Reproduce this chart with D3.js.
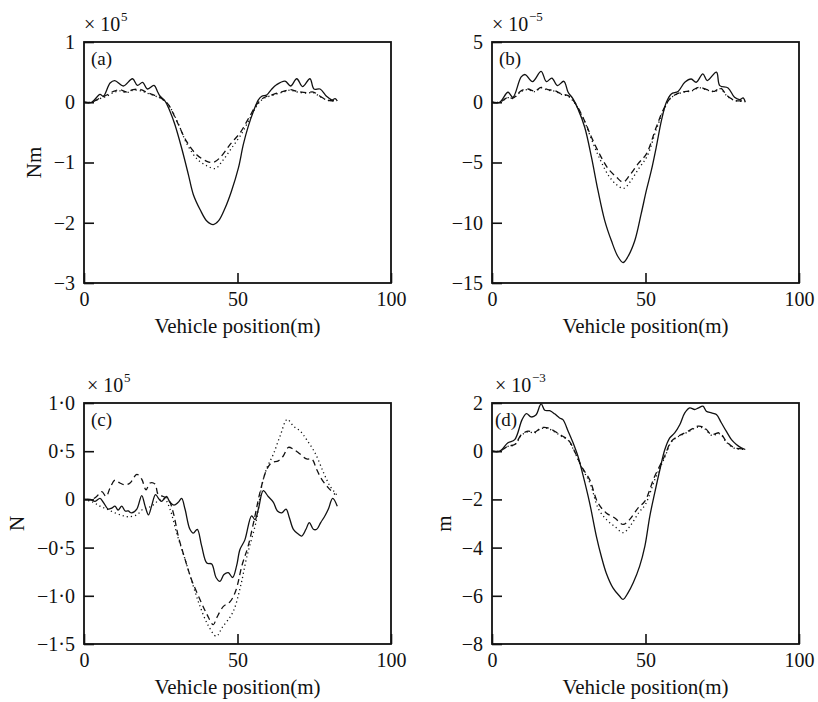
<!DOCTYPE html>
<html>
<head>
<meta charset="utf-8">
<script src="https://cdn.jsdelivr.net/npm/d3@7.9.0/dist/d3.min.js"></script>
<style>
  body { margin: 0; background: #fff; }
  svg text { font-family: "Liberation Serif", "Times New Roman", serif; fill: #111; }
</style>
</head>
<body>
<svg id="chart" width="818" height="702"></svg>
<script>
// --- data: [vehicle position (m), value] per curve ---
const aSolid = [[0,0],[2.5,0],[5.2,0.13],[6.3,0.1],[8.5,0.32],[10,0.36],[12.8,0.27],[15.8,0.39],[17.4,0.28],[19.1,0.33],[20.6,0.22],[22.8,0.28],[24,0.17],[24.8,0.1],[26.4,0.02],[28,-0.15],[29.6,-0.37],[31.8,-0.76],[34,-1.2],[35.6,-1.53],[37.8,-1.78],[40,-1.97],[42.1,-2.03],[43.8,-1.97],[46,-1.75],[48,-1.48],[50.3,-1.09],[51.9,-0.7],[53.5,-0.4],[55.2,-0.15],[56.8,0.04],[57.9,0.1],[59.5,0.12],[61,0.21],[62.7,0.29],[65.5,0.35],[67.3,0.27],[69.3,0.39],[71.2,0.26],[73.6,0.39],[74.9,0.22],[76.9,0.22],[79,0.1],[80.7,0.04],[81.8,0.06],[82.5,0.02]];
const aDashed = [[0,0],[2.5,0],[5.2,0.07],[7.4,0.12],[9.6,0.18],[11.7,0.21],[13.9,0.17],[16,0.21],[18.5,0.21],[20.6,0.16],[22.8,0.12],[24.8,0.08],[26,0.03],[27.5,-0.04],[30.2,-0.31],[33.4,-0.65],[36.7,-0.87],[40,-0.98],[42.1,-1.0],[44.3,-0.92],[47.6,-0.7],[50.8,-0.51],[54,-0.23],[56.2,-0.04],[58.4,0.07],[61.7,0.13],[64.9,0.18],[67.1,0.21],[69.5,0.18],[72.5,0.16],[74.7,0.17],[76.9,0.1],[79.5,0.03],[82.3,0.03]];
const aDotted = [[0,0],[2.5,0],[5.2,0.06],[7.4,0.1],[9.6,0.16],[11.7,0.19],[13.9,0.16],[16,0.2],[18.5,0.19],[20.6,0.15],[22.8,0.11],[24.8,0.07],[26.5,0.01],[28,-0.08],[30.5,-0.33],[33.6,-0.7],[37,-0.95],[40.2,-1.06],[42.8,-1.1],[45,-0.98],[47.8,-0.78],[51,-0.55],[54,-0.27],[56.4,-0.05],[58.4,0.06],[61.7,0.12],[64.9,0.17],[67.1,0.2],[69.5,0.17],[72.5,0.15],[74.7,0.16],[76.9,0.09],[79.5,0.03],[82.3,0.02]];

const bSolid = [[0,0],[2.5,0],[5.2,0.83],[6.8,0.41],[9.5,2.1],[10.8,2.3],[13.2,1.72],[16,2.57],[17.7,1.72],[19.5,2.0],[21.3,1.38],[23.4,1.74],[24.8,0.83],[26.4,0.28],[28,-0.55],[30.2,-2.07],[32.4,-4.56],[34.5,-7.3],[36.7,-9.8],[38.9,-11.5],[41,-12.8],[42.7,-13.3],[44.3,-12.8],[46.5,-11.5],[48.6,-9.25],[50.3,-7.3],[51.9,-5.66],[53.5,-3.73],[55.2,-1.5],[56.8,0],[58.4,0.69],[60.6,0.9],[62.8,1.66],[64.9,1.93],[66.5,1.66],[68.7,2.35],[70.1,1.8],[73.1,2.5],[74.2,1.38],[76.9,1.19],[79,0.41],[80.7,0.22],[81.8,0.36],[82.5,0]];
const bDashed = [[0,0],[2.5,0],[5.2,0.41],[6.8,0.35],[9.6,0.97],[11.7,1.1],[13.9,0.92],[16,1.24],[18.2,1.05],[20.4,0.97],[22.6,0.69],[24.8,0.55],[26.9,0],[29.6,-1.24],[32.4,-2.9],[35,-4.28],[37.8,-5.5],[40.5,-6.2],[42.7,-6.63],[44.8,-6.08],[47.6,-5.1],[50.3,-4.28],[53.5,-2.07],[56.2,-0.41],[58.4,0.41],[61.7,0.83],[64.9,0.97],[67.6,1.24],[70.4,1.02],[72.5,0.91],[74.4,1.19],[76.6,0.55],[79.3,0.14],[82.3,0.14]];
const bDotted = [[0,0],[2.5,0],[5.2,0.38],[6.8,0.32],[9.6,0.9],[11.7,1.05],[13.9,0.88],[16,1.2],[18.2,1.0],[20.4,0.92],[22.6,0.66],[24.8,0.5],[26.9,-0.05],[29.8,-1.4],[32.6,-3.2],[35.3,-4.8],[38,-6.1],[40.6,-6.85],[42.9,-7.15],[45,-6.6],[47.8,-5.5],[50.5,-4.5],[53.6,-2.2],[56.3,-0.45],[58.4,0.38],[61.7,0.8],[64.9,0.93],[67.6,1.2],[70.4,0.98],[72.5,0.88],[74.4,1.12],[76.6,0.5],[79.3,0.12],[82.3,0.1]];

const cSolid = [[0,0],[2,0],[3.6,-0.02],[5.2,0.01],[6.3,-0.03],[7.9,-0.1],[9,-0.09],[10.1,-0.07],[11.1,-0.11],[12.3,-0.07],[13.4,-0.12],[14.4,-0.12],[15.5,-0.14],[17.2,-0.1],[18.8,0.04],[19.9,-0.07],[21,-0.16],[22,-0.07],[23.3,0.05],[24.5,0],[25.3,-0.02],[26.9,0.03],[28,-0.03],[29.3,-0.06],[30.7,-0.03],[31.8,0.01],[32.9,-0.1],[34.5,-0.31],[35.6,-0.35],[36.9,-0.31],[38.3,-0.48],[40,-0.66],[41.6,-0.67],[43,-0.81],[44.3,-0.85],[45.6,-0.78],[47,-0.76],[48.4,-0.81],[49.7,-0.69],[50.8,-0.52],[52.4,-0.42],[54.6,-0.17],[55.7,-0.21],[56.8,-0.1],[58.4,0.09],[60,0.03],[61.7,-0.03],[63,-0.12],[64.4,-0.14],[65.8,-0.1],[66.9,-0.19],[68.2,-0.31],[69.8,-0.36],[70.9,-0.38],[72.3,-0.31],[73.4,-0.24],[74.7,-0.31],[75.8,-0.31],[77.1,-0.24],[78.5,-0.17],[79.6,-0.1],[81,0.01],[82.5,-0.07]];
const cDashed = [[0,0],[2.5,0],[4.1,0.03],[5.8,0.08],[7.2,0.03],[8.5,0.12],[10.1,0.2],[11.7,0.17],[13.4,0.15],[15,0.17],[17.2,0.26],[18.8,0.21],[20.2,0.1],[21.5,0.17],[23.1,0.16],[24.2,0.05],[25.8,0.03],[27.5,0],[29.1,-0.14],[30.7,-0.38],[32.9,-0.62],[35,-0.83],[37.8,-1.04],[40,-1.19],[42.1,-1.3],[43.2,-1.23],[45.4,-1.11],[47.6,-1.06],[49.4,-0.95],[51.5,-0.68],[53.5,-0.48],[55.7,-0.17],[57.3,0.07],[59.5,0.31],[61.1,0.38],[63.3,0.4],[64.9,0.45],[66.6,0.54],[68.2,0.52],[70.4,0.47],[72.5,0.42],[74.2,0.42],[75.8,0.31],[77.4,0.21],[79.6,0.12],[81.8,0.05]];
const cDotted = [[0,0],[3,-0.03],[5.2,-0.07],[7.4,-0.1],[10.1,-0.14],[12.8,-0.17],[14.4,-0.18],[17.2,-0.16],[19.3,-0.1],[22,-0.07],[24.8,0],[26.4,0],[28,-0.1],[30.2,-0.35],[32.9,-0.62],[35.6,-0.9],[37.8,-1.11],[40.5,-1.31],[43.1,-1.42],[45,-1.33],[48.5,-1.17],[51,-0.9],[53,-0.6],[56.2,-0.21],[57.9,0.14],[59.5,0.32],[61.7,0.47],[63.9,0.66],[66.2,0.83],[68.2,0.76],[70.4,0.71],[72.5,0.62],[75.3,0.48],[78,0.28],[80.1,0.14],[82.3,0.05]];

const dSolid = [[0,0],[2.5,0],[5.2,0.35],[7.4,0.48],[9.8,1.31],[11.2,1.56],[12.8,1.42],[14.3,1.5],[16,1.96],[17.2,1.7],[18.8,1.68],[20.4,1.55],[22,1.38],[23.1,1.31],[24.8,0.83],[26.4,0.35],[28,-0.21],[29.6,-0.97],[31.8,-2.14],[34,-3.53],[35.6,-4.36],[37.2,-5.05],[39.4,-5.67],[41.6,-6.02],[42.7,-6.15],[44.3,-5.88],[46,-5.46],[48.1,-4.77],[49.8,-3.94],[51.4,-2.7],[53,-1.73],[54.7,-0.76],[56.3,0.07],[57.9,0.55],[59.5,0.76],[61.2,1.11],[62.8,1.59],[64.4,1.8],[66,1.73],[67.3,1.8],[68.7,1.87],[69.8,1.66],[71.5,1.59],[73.1,1.52],[74.7,1.18],[76.3,0.83],[78,0.48],[79.6,0.28],[81.2,0.14],[82.5,0.07]];
const dDashed = [[0,0],[2.5,0],[5.2,0.21],[7.4,0.28],[9.6,0.69],[11.7,0.83],[13.9,0.79],[16,0.97],[18.2,0.97],[20.4,0.83],[22.6,0.65],[24.8,0.48],[26.9,0],[29.1,-0.62],[31.8,-1.18],[34.5,-2.14],[37.2,-2.56],[40,-2.77],[42.7,-3.04],[44.8,-2.84],[47.6,-2.35],[49.8,-2.07],[53,-1.04],[56.2,-0.21],[58.4,0.41],[60.6,0.62],[63.9,0.83],[67.1,1.04],[69.3,0.97],[71.5,0.69],[74.2,0.76],[76.3,0.41],[79,0.14],[82.3,0.1]];
const dDotted = [[0,0],[2.5,0],[5.2,0.2],[7.4,0.26],[9.6,0.66],[11.7,0.8],[13.9,0.76],[16,0.94],[18.2,0.94],[20.4,0.8],[22.6,0.62],[24.8,0.45],[26.9,-0.03],[29.3,-0.7],[32,-1.35],[34.7,-2.4],[37.4,-2.85],[40.2,-3.15],[42.8,-3.38],[45,-3.1],[47.8,-2.55],[50,-2.2],[53.2,-1.12],[56.3,-0.25],[58.4,0.38],[60.6,0.6],[63.9,0.8],[67.1,1.0],[69.3,0.93],[71.5,0.66],[74.2,0.72],[76.3,0.38],[79,0.12],[82.3,0.08]];

// --- axes / labels ---
const xTicks = [0, 50, 100];
const panelLabels = ['(a)', '(b)', '(c)', '(d)'];
const yLabels = ['Nm', '', 'N', 'm'];
const exponents = ['5', '\u22125', '5', '\u22123'];
const yDomains = [[-3, 1], [-15, 5], [-1.5, 1.0], [-8, 2]];
const yTicks = [[-3, -2, -1, 0, 1], [-15, -10, -5, 0, 5], [-1.5, -1.0, -0.5, 0, 0.5, 1.0], [-8, -6, -4, -2, 0, 2]];
const xLabel = 'Vehicle position(m)';

const series = [
  [aSolid, aDashed, aDotted],
  [bSolid, bDashed, bDotted],
  [cSolid, cDashed, cDotted],
  [dSolid, dDashed, dDotted]
];

// layout of the four plot boxes
const boxes = [
  { x: 84, y: 42 }, { x: 492, y: 42 },
  { x: 84, y: 403 }, { x: 492, y: 403 }
];
const W = 307, H = 241;
const styles = [
  { dash: null, width: 1.3 },
  { dash: '6,4', width: 1.3 },
  { dash: '1.2,3', width: 1.3 }
];
const yLabelOffset = [50, 0, 67, 48];

const svg = d3.select('#chart');
svg.append('rect').attr('width', 818).attr('height', 702).attr('fill', '#fff');

const dotFmt = d => d === 0 ? '0' : d3.format('.1f')(d).replace('.', '\u00b7');

boxes.forEach((b, i) => {
  const g = svg.append('g').attr('transform', `translate(${b.x},${b.y})`);
  const x = d3.scaleLinear().domain([0, 100]).range([0, W]);
  const y = d3.scaleLinear().domain(yDomains[i]).range([H, 0]);

  const line = d3.line()
    .x(d => x(d[0])).y(d => y(d[1]))
    .curve(d3.curveCatmullRom.alpha(0.5));

  series[i].forEach((s, k) => {
    g.append('path')
      .datum(s)
      .attr('d', line)
      .attr('fill', 'none')
      .attr('stroke', '#111')
      .attr('stroke-width', styles[k].width)
      .attr('stroke-dasharray', styles[k].dash);
  });

  // y axis, inward ticks
  const yAxis = d3.axisLeft(y).tickValues(yTicks[i])
    .tickSizeInner(-10).tickSizeOuter(0).tickPadding(9)
    .tickFormat(i === 2 ? dotFmt : d3.format('d'));
  const ya = g.append('g').call(yAxis);
  ya.select('.domain').remove();
  ya.selectAll('line').attr('stroke', '#111').attr('stroke-width', 1.6);
  ya.selectAll('text').attr('font-size', 20).attr('fill', '#111')
    .attr('font-family', '"Liberation Serif", "Times New Roman", serif');

  // x axis, inward ticks
  const xAxis = d3.axisBottom(x).tickValues(xTicks)
    .tickSizeInner(-10).tickSizeOuter(0).tickPadding(9)
    .tickFormat(d3.format('d'));
  const xa = g.append('g').attr('transform', `translate(0,${H})`).call(xAxis);
  xa.select('.domain').remove();
  xa.selectAll('line').attr('stroke', '#111').attr('stroke-width', 1.6);
  xa.selectAll('text').attr('font-size', 20).attr('fill', '#111')
    .attr('font-family', '"Liberation Serif", "Times New Roman", serif');

  // frame
  g.append('rect').attr('width', W).attr('height', H)
    .attr('fill', 'none').attr('stroke', '#111').attr('stroke-width', 1.8);

  // panel tag
  g.append('text').attr('x', i === 3 ? 3 : 7).attr('y', 23)
    .attr('font-size', 19).text(panelLabels[i]);

  // x label
  g.append('text').attr('x', W / 2).attr('y', H + 50)
    .attr('text-anchor', 'middle').attr('font-size', 21).text(xLabel);

  // y label
  if (yLabels[i]) {
    g.append('text')
      .attr('transform', `translate(${-yLabelOffset[i]},${H / 2}) rotate(-90)`)
      .attr('text-anchor', 'middle').attr('dy', '0.35em')
      .attr('font-size', 21).text(yLabels[i]);
  }

  // multiplier
  const mx = i % 2 === 0 ? 0 : 0;
  g.append('text').attr('x', mx + (i >= 2 ? 3 : 0)).attr('y', -11)
    .attr('font-size', 20).text('\u00d7 10');
  g.append('text').attr('x', mx + (i >= 2 ? 3 : 0) + 37).attr('y', -21)
    .attr('font-size', 13).text(exponents[i]);
});
</script>
</body>
</html>
